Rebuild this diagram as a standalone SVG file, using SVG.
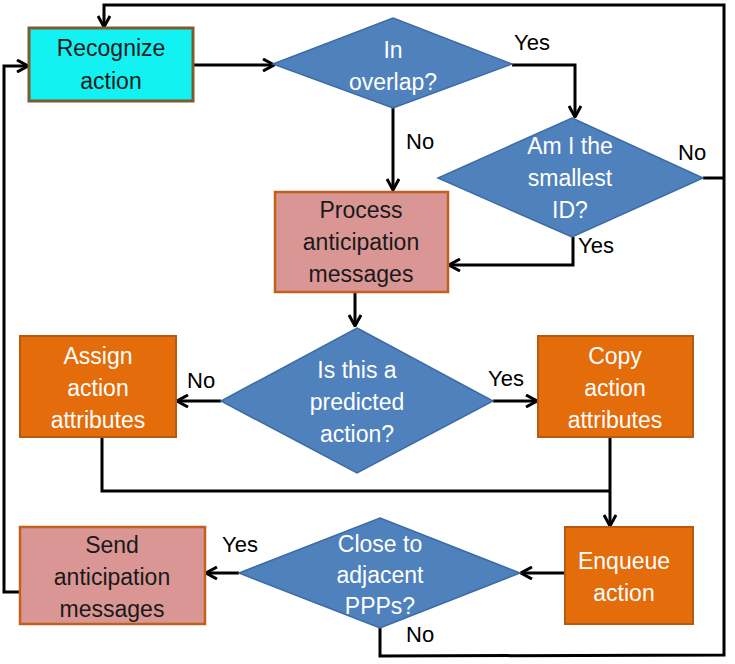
<svg xmlns="http://www.w3.org/2000/svg" width="735" height="664" viewBox="0 0 735 664">
<defs>
<marker id="arr" viewBox="0 0 14 14" refX="13" refY="7" markerWidth="14" markerHeight="14" markerUnits="userSpaceOnUse" orient="auto">
<polyline points="2,1 13,7 2,13" fill="none" stroke="#000" stroke-width="3"/>
</marker>
<style>
.ln{fill:none;stroke:#000;stroke-width:3}
.dia{fill:#4F81BD;stroke:#3C6CA6;stroke-width:1.5}
.org{fill:#E46C0A;stroke:#B65A12;stroke-width:2}
.pink{fill:#D99694;stroke:#C0621E;stroke-width:2.5}
.cyan{fill:#12F2F2;stroke:#7F5A2A;stroke-width:3}
text{font-family:"Liberation Sans",Arial,sans-serif;font-size:23px;text-anchor:middle}
.wt{fill:#fff}
.dk{fill:#1a1a1a}
.lb{fill:#000;font-size:22px;text-anchor:start}
</style>
</defs>
<g id="connectors">
<polyline class="ln" points="193,65 274,65" marker-end="url(#arr)"/>
<polyline class="ln" points="512,65 575,65 575,117" marker-end="url(#arr)"/>
<polyline class="ln" points="393,108 393,190" marker-end="url(#arr)"/>
<polyline class="ln" points="573,237 573,265 449,265" marker-end="url(#arr)"/>
<polyline class="ln" points="703,178 724,178"/>
<polyline class="ln" points="380,628 380,656 724,655 724,5 104,5 104,27" marker-end="url(#arr)"/>
<polyline class="ln" points="355,292 355,326" marker-end="url(#arr)"/>
<polyline class="ln" points="221,401 177,401" marker-end="url(#arr)"/>
<polyline class="ln" points="493,401 537,401" marker-end="url(#arr)"/>
<polyline class="ln" points="102,437 102,491 610,491"/>
<polyline class="ln" points="610,437 610,526" marker-end="url(#arr)"/>
<polyline class="ln" points="565,573 521,573" marker-end="url(#arr)"/>
<polyline class="ln" points="239,573 206,573" marker-end="url(#arr)"/>
<polyline class="ln" points="20,592 4,592 4,66 28,66" marker-end="url(#arr)"/>
<text class="lb" x="514" y="50">Yes</text>
<text class="lb" x="406" y="149">No</text>
<text class="lb" x="678" y="160">No</text>
<text class="lb" x="578" y="253">Yes</text>
<text class="lb" x="187" y="388">No</text>
<text class="lb" x="488" y="386">Yes</text>
<text class="lb" x="222" y="552">Yes</text>
<text class="lb" x="406" y="642">No</text>
</g>
<g id="recognize">
<rect class="cyan" x="29" y="28" width="164" height="73"/>
<text class="dk" x="111" y="56">Recognize</text>
<text class="dk" x="111" y="89">action</text>
</g>
<g id="overlap">
<polygon class="dia" points="393,18 512,64 393,108 273,64"/>
<text class="wt" x="393" y="58">In</text>
<text class="wt" x="393" y="90">overlap?</text>
</g>
<g id="smallest">
<polygon class="dia" points="572,118 703,178 572,237 438,178"/>
<text class="wt" x="570" y="154">Am I the</text>
<text class="wt" x="570" y="186">smallest</text>
<text class="wt" x="570" y="218">ID?</text>
</g>
<g id="process">
<rect class="pink" x="275" y="192" width="173" height="100"/>
<text class="dk" x="361" y="218">Process</text>
<text class="dk" x="361" y="250">anticipation</text>
<text class="dk" x="361" y="282">messages</text>
</g>
<g id="predicted">
<polygon class="dia" points="357,328 493,401 357,473 221,401"/>
<text class="wt" x="357" y="378">Is this a</text>
<text class="wt" x="357" y="410">predicted</text>
<text class="wt" x="357" y="442">action?</text>
</g>
<g id="assign">
<rect class="org" x="20" y="336" width="156" height="101"/>
<text class="wt" x="98" y="364">Assign</text>
<text class="wt" x="98" y="396">action</text>
<text class="wt" x="98" y="428">attributes</text>
</g>
<g id="copy">
<rect class="org" x="538" y="336" width="155" height="101"/>
<text class="wt" x="615" y="364">Copy</text>
<text class="wt" x="615" y="396">action</text>
<text class="wt" x="615" y="428">attributes</text>
</g>
<g id="enqueue">
<rect class="org" x="565" y="527" width="128" height="97"/>
<text class="wt" x="624" y="569">Enqueue</text>
<text class="wt" x="624" y="601">action</text>
</g>
<g id="close">
<polygon class="dia" points="380,518 520,573 380,628 239,573"/>
<text class="wt" x="380" y="552">Close to</text>
<text class="wt" x="380" y="583">adjacent</text>
<text class="wt" x="380" y="614">PPPs?</text>
</g>
<g id="send">
<rect class="pink" x="20" y="527" width="185" height="97"/>
<text class="dk" x="112" y="553">Send</text>
<text class="dk" x="112" y="585">anticipation</text>
<text class="dk" x="112" y="617">messages</text>
</g>
</svg>
